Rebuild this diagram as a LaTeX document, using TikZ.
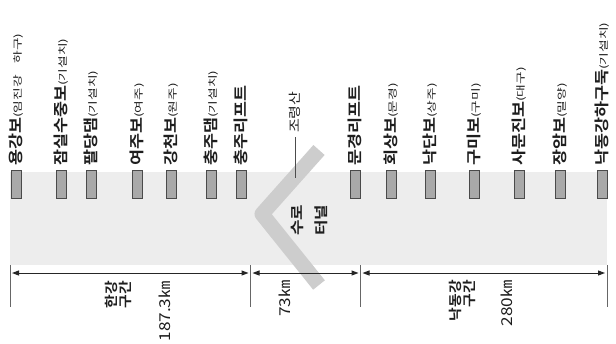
\documentclass[tikz,border=0pt]{standalone}
\usepackage{fontspec}
\usepackage{graphicx}
\newfontfamily\kr{Noto Sans CJK KR}
\IfFontExistsTF{Noto Sans CJK KR Bold}
  {\newfontfamily\krb{Noto Sans CJK KR Bold}}
  {\newfontfamily\krb[FakeBold=1.5]{Noto Sans CJK KR}}
\usetikzlibrary{arrows.meta}
\definecolor{bandgray}{HTML}{EDEDED}
\definecolor{chevgray}{HTML}{CDCDCD}
\definecolor{boxfill}{HTML}{A9A9A9}
\definecolor{boxline}{HTML}{4A4A4A}
\definecolor{txt}{HTML}{1E1E1E}
\newcommand\mainname[1]{\scalebox{1.16}[1]{\fontsize{15}{15}\krb #1}}
\newcommand\subname[1]{\scalebox{1.45}[1]{\fontsize{9.5}{10}\kr(#1)}}
\newcommand\boldcap[1]{\scalebox{1.2}[1]{\fontsize{14}{12}\krb #1}}
\newcommand\seccap[1]{\scalebox{1.1}[1]{\fontsize{13.5}{12}\krb #1}}
\newcommand\kmtext[1]{\scalebox{1.15}[1]{\fontsize{15}{15}\kr #1}}
\tikzset{
  stlabel/.style={rotate=90, anchor=west, inner sep=0pt, text=txt},
  dimlabel/.style={rotate=90, anchor=east, inner sep=0pt, text=txt, align=right},
  weir/.style={draw=boxline, fill=boxfill, line width=0.9pt, minimum width=10pt, minimum height=28pt, inner sep=0pt},
  tick/.style={draw=black!60, line width=0.6pt},
  dimarrow/.style={draw=black!85, line width=1pt, {Triangle[length=7pt,width=5pt]}-{Triangle[length=7pt,width=5pt]}}
}
\begin{document}
\begin{tikzpicture}[x=1pt,y=-1pt]
\useasboundingbox (0,0) rectangle (616,343);
\fill[white] (0,0) rectangle (616,343);
% band
\fill[bandgray] (10,172) rectangle (607,265);
% chevron (water tunnel)
\draw[chevgray, line width=15pt, line join=round] (319,150) -- (262,214) -- (319,285);
% weirs
\foreach \n/\x in {1/16,2/61,3/91,4/137,5/171,6/211,7/241,8/355,9/391,10/430,11/474,12/519,13/560,14/602}{
  \node[weir] (r\n) at (\x,184.5) {};
}
% station labels
\node[stlabel] (t1) at (16,166) {\mainname{용강보}\subname{임진강\hspace{8pt}하구}};
\node[stlabel] (t2) at (61,166) {\mainname{잠실수중보}\subname{기설치}};
\node[stlabel] (t3) at (91,166) {\mainname{팔당댐}\subname{기설치}};
\node[stlabel] (t4) at (137,166) {\mainname{여주보}\subname{여주}};
\node[stlabel] (t5) at (171,166) {\mainname{강천보}\subname{원주}};
\node[stlabel] (t6) at (211,166) {\mainname{충주댐}\subname{기설치}};
\node[stlabel] (t7) at (241,166) {\mainname{충주리프트}};
\node[stlabel] (t8) at (355,166) {\mainname{문경리프트}};
\node[stlabel] (t9) at (391,166) {\mainname{회상보}\subname{문경}};
\node[stlabel] (t10) at (430,166) {\mainname{낙단보}\subname{상주}};
\node[stlabel] (t11) at (474,166) {\mainname{구미보}\subname{구미}};
\node[stlabel] (t12) at (519,166) {\mainname{사문진보}\subname{대구}};
\node[stlabel] (t13) at (560,166) {\mainname{장암보}\subname{밀양}};
\node[stlabel] (t14) at (602,166) {\mainname{낙동강하구둑}\subname{기설치}};
% mountain
\node[stlabel] (mt) at (295,133) {\scalebox{1.2}[1]{\fontsize{12.5}{12}\kr 조령산}};
\coordinate (mtstart) at (295,137);
\coordinate (mtend) at (295,178);
\draw[black!70, line width=0.5pt] (mtstart) -- (mtend);
% tunnel label
\node[rotate=90, inner sep=0pt, text=txt, align=left] (tun) at (309.5,220)
  {\boldcap{수로}\\[10pt]\boldcap{터널}};
% dimension ticks
\foreach \n/\x in {a/10,b/250.5,c/360.5,d/607}{
  \coordinate (\n top) at (\x,265);
  \coordinate (\n bot) at (\x,307);
  \draw[tick] (\n top) -- (\n bot);
}
\coordinate (h1) at (12,273);
\coordinate (h2) at (248.5,273);
\coordinate (m1) at (252.5,273);
\coordinate (m2) at (358.5,273);
\coordinate (n1) at (362.5,273);
\coordinate (n2) at (605,273);
\draw[dimarrow] (h1) -- (h2);
\draw[dimarrow] (m1) -- (m2);
\draw[dimarrow] (n1) -- (n2);
% dimension labels
\node[dimlabel] (hanname) at (118.5,281) {\seccap{한강}\\\seccap{구간}};
\node[dimlabel] (hankm) at (165,281) {\kmtext{187.3㎞}};
\node[dimlabel] (tunkm) at (285,280) {\kmtext{73㎞}};
\node[dimlabel] (nakname) at (462.5,280) {\seccap{낙동강}\\\seccap{구간}};
\node[dimlabel] (nakkm) at (506.5,280) {\kmtext{280㎞}};
\end{tikzpicture}
\end{document}
